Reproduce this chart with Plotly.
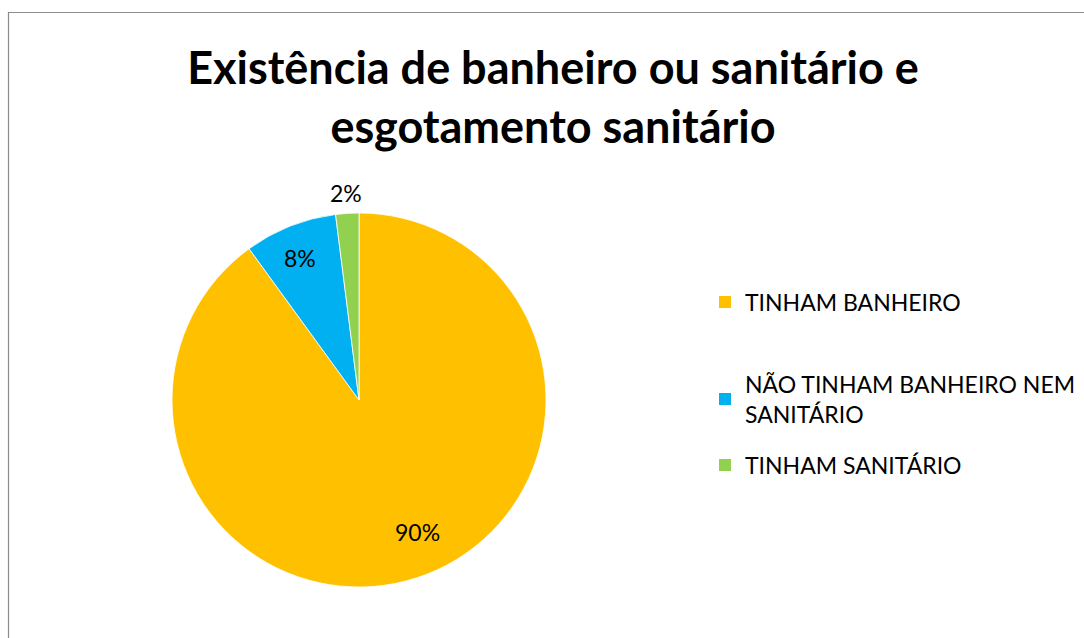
import math
import plotly.graph_objects as go

# Data
categories = ["TINHAM BANHEIRO", "NÃO TINHAM BANHEIRO NEM SANITÁRIO", "TINHAM SANITÁRIO"]
legend_labels = ["TINHAM BANHEIRO", "NÃO TINHAM BANHEIRO NEM<br>SANITÁRIO", "TINHAM SANITÁRIO"]
values = [90, 8, 2]
colors = ["#FFC000", "#00B0F0", "#92D050"]

W, H = 1084, 638
cx, cy, R = 359, 400, 187  # pie centre / radius in pixels

fig = go.Figure()
fig.add_trace(go.Pie(
    labels=categories,
    values=values,
    sort=False,
    direction="clockwise",
    rotation=0,
    marker=dict(colors=colors, line=dict(color="white", width=0.8)),
    textinfo="none",
    hoverinfo="label+percent",
    showlegend=False,
    domain=dict(x=[(cx - R) / W, (cx + R) / W], y=[(H - cy - R) / H, (H - cy + R) / H]),
))

# Percentage labels placed along each slice's mid angle (radius as fraction of R,
# with a small angular nudge in degrees)
total = sum(values)
cum = 0
label_radius = [0.77, 0.82, 1.11]
label_nudge = [-6.0, -1.0, 0.0]
for v, rf, nd in zip(values, label_radius, label_nudge):
    mid = (cum + v / 2) / total * 2 * math.pi + math.radians(nd)
    cum += v
    px = cx + rf * R * math.sin(mid)
    py = cy - rf * R * math.cos(mid)
    fig.add_annotation(
        x=px / W, y=1 - py / H, xref="paper", yref="paper",
        xanchor="center", yanchor="middle",
        text=f"{round(v / total * 100)}%", showarrow=False,
        font=dict(family="Lato, Carlito, sans-serif", size=23, color="#000000"),
    )

# Legend: one dummy entry per category, each in its own legend box
legend_y = [302, 399, 465]
for i, (name, col) in enumerate(zip(legend_labels, colors)):
    lname = "legend" if i == 0 else f"legend{i + 1}"
    fig.add_trace(go.Scatter(
        x=[None], y=[None], mode="markers", name=name,
        marker=dict(symbol="square", size=12, color=col),
        legend=lname, showlegend=True, hoverinfo="skip",
    ))
    fig.update_layout(**{lname: dict(
        x=705 / W, y=1 - legend_y[i] / H, xanchor="left", yanchor="middle",
        bgcolor="rgba(0,0,0,0)", borderwidth=0,
        font=dict(family="Lato, Carlito, sans-serif", size=23, color="#000000"),
        itemclick=False, itemdoubleclick=False,
    )})

fig.update_xaxes(visible=False)
fig.update_yaxes(visible=False)

# Chart-area frame
fig.add_shape(type="rect", xref="paper", yref="paper",
              x0=8.5 / W, x1=1.02, y0=-0.02, y1=1 - 12.5 / H,
              line=dict(color="#8C8C8C", width=1.2), fillcolor="rgba(0,0,0,0)")

fig.update_layout(
    width=W, height=H,
    margin=dict(l=0, r=0, t=0, b=0),
    paper_bgcolor="white", plot_bgcolor="white",
    title=dict(
        text="Existência de banheiro ou sanitário e<br>esgotamento sanitário",
        x=553 / W, xanchor="center", y=1 - 84 / H, yanchor="middle",
        font=dict(family="Lato, Carlito, sans-serif", size=45, color="#000000", weight="bold"),
    ),
)

fig.write_html("out.html")
